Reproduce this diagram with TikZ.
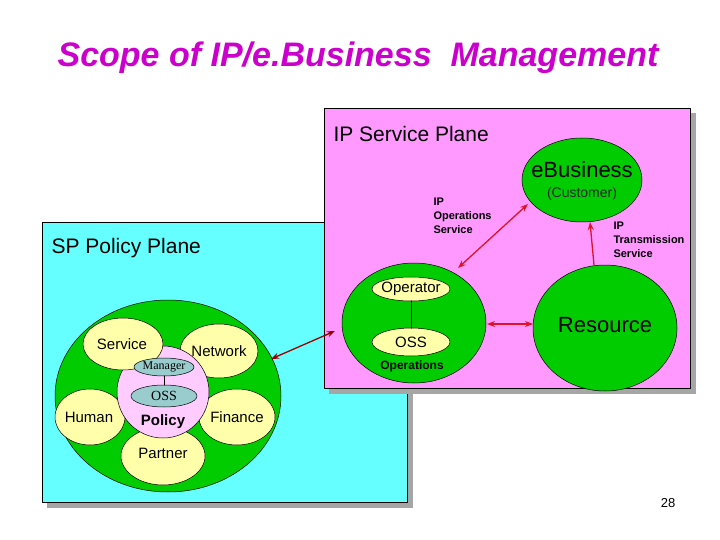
\documentclass[tikz,border=0pt]{standalone}
\usepackage{fontspec}
\setmainfont{Liberation Sans}
\newfontfamily\serifed{Liberation Serif}
\usetikzlibrary{arrows.meta}
\definecolor{cyanbg}{RGB}{102,255,255}
\definecolor{pinkbg}{RGB}{255,153,255}
\definecolor{leaf}{RGB}{0,204,0}
\definecolor{cream}{RGB}{255,255,170}
\definecolor{lilac}{RGB}{255,204,255}
\definecolor{slate}{RGB}{153,204,204}
\definecolor{titlecol}{RGB}{204,0,204}
\definecolor{arrowred}{RGB}{220,20,40}
\tikzset{
  plane/.style={draw=black,line width=0.6pt},
  shade/.style={fill=gray!70,draw=none},
  blob/.style={draw=black,line width=0.5pt,fill=leaf},
  petal/.style={draw=black,line width=0.5pt,fill=cream},
  link/.style={arrowred,line width=1.3pt,{Stealth[length=8pt,width=6pt]}-{Stealth[length=8pt,width=6pt]}},
  uplink/.style={arrowred,line width=1.3pt,-{Stealth[length=8pt,width=6pt]}}
}

\begin{document}
\begin{tikzpicture}[x=1pt,y=-1pt,line cap=round,line join=round]
    \useasboundingbox (0,0) rectangle (720,540);
    \fill[white] (0,0) rectangle (720,540);

    % Title
    \draw(358,58) node[titlecol,font=\fontsize{34}{36}\selectfont\bfseries\itshape] (title) {Scope of IP/e.Business\ \ Management};

    % Planes
    \fill[shade] (47,227) rectangle (413,508);
    \draw[plane,fill=cyanbg] (42,222) rectangle (407,502);
    \fill[shade] (329,113) rectangle (696,394);
    \draw[plane,fill=pinkbg] (324,108) rectangle (690,388);
    \draw(330,134) node[anchor=west,font=\fontsize{21}{23}\selectfont] (ipplane) {IP Service Plane};
    \draw(48,248) node[anchor=west,font=\fontsize{21}{23}\selectfont] (spplane) {SP Policy Plane};

    % Policy cluster
    \draw[blob] (168,396) ellipse [x radius=113,y radius=96];
    \coordinate (cluster) at (271,359);
    \draw[petal] (219,351) ellipse [x radius=39,y radius=27];
    \draw[petal] (90,417) ellipse [x radius=35,y radius=28];
    \draw[petal] (237,417) ellipse [x radius=38,y radius=28];
    \draw[petal] (163,456) ellipse [x radius=42,y radius=29];
    \draw[draw=black,line width=0.5pt,fill=lilac] (163,392) circle (46);
    \draw[petal] (123,344) ellipse [x radius=40,y radius=26];
    \draw[draw=black,line width=0.5pt,fill=slate] (164,367) ellipse [x radius=30,y radius=9];
    \draw[draw=black,line width=0.5pt,fill=slate] (164,396) ellipse [x radius=33,y radius=11];
    \draw[black,line width=1pt] (164,376) -- (164,385);
    \begin{scope}[font=\fontsize{15}{17}\selectfont]
        \draw(122,344) node (service) {Service};
        \draw(219,351) node (network) {Network};
        \draw(89,417) node (human) {Human};
        \draw(237,417) node (finance) {Finance};
        \draw(163,453) node (partner) {Partner};
        \draw(163,422) node[font=\fontsize{15}{17}\selectfont\bfseries] (policy) {Policy};
    \end{scope}
    \draw(164,367) node[font=\serifed\fontsize{12}{13}\selectfont] (manager) {Manager};
    \draw(164,396) node[font=\serifed\fontsize{14}{15}\selectfont] (poss) {OSS};

    % IP service plane
    \draw[blob] (582,180) ellipse [x radius=60,y radius=42];
    \draw[blob] (414,323) ellipse [x radius=72,y radius=60];
    \draw[blob] (605,328) ellipse [x radius=72,y radius=63];
    \draw[petal] (411,289) ellipse [x radius=39,y radius=12];
    \draw[petal] (411,342) ellipse [x radius=39,y radius=14];
    \draw[black,line width=1pt] (411,301) -- (411,328);
    \draw(582,170) node[font=\fontsize{22}{24}\selectfont] (ebiz) {eBusiness};
    \draw(582,194) node[gray!30!black,font=\fontsize{14}{15}\selectfont] (cust) {(Customer)};
    \draw(411,289) node[font=\fontsize{15}{17}\selectfont] (operator) {Operator};
    \draw(411,342) node[font=\fontsize{15}{17}\selectfont] (ooss) {OSS};
    \draw(412,366) node[font=\fontsize{12}{13}\selectfont\bfseries] (operations) {Operations};
    \draw(605,325) node[font=\fontsize{22}{24}\selectfont] (resource) {Resource};
    \draw(430,216) node[anchor=west,align=left,font=\fontsize{11}{14}\selectfont\bfseries] (ipops) {IP\\Operations\\Service};
    \draw(610,240) node[anchor=west,align=left,font=\fontsize{11}{14}\selectfont\bfseries] (iptrans) {IP\\Transmission\\Service};

    \coordinate (opsNE) at (458,268);
    \coordinate (ebizSW) at (528,204);
    \coordinate (opsE) at (487,324);
    \coordinate (resW) at (533,324);
    \coordinate (resN) at (594,265);
    \coordinate (ebizS) at (590,222);
    \coordinate (opsW) at (335,331);

    % Connectors
    \foreach \source/\target in {opsNE/ebizSW, opsE/resW} {
            \draw[link] (\source) -- (\target);
        }
    \draw[uplink] (resN) -- (ebizS);
    \draw[link,red!60!black] (cluster) -- (opsW);

    % Page number
    \draw(668,503) node[font=\fontsize{13}{15}\selectfont] (page) {28};
\end{tikzpicture}
\end{document}
